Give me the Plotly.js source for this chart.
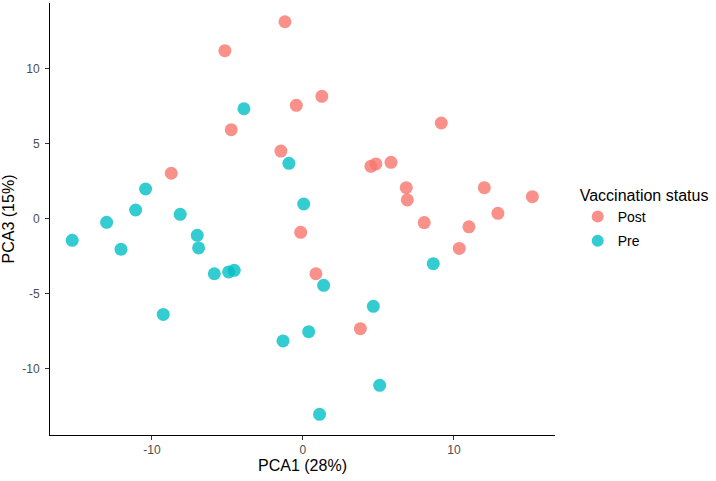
<!DOCTYPE html>
<html>
<head>
<meta charset="utf-8">
<script src="https://cdn.plot.ly/plotly-3.0.1.min.js"></script>
<style>html,body{margin:0;padding:0;background:#fff;}#chart{width:716px;height:481px;}</style>
</head>
<body>
<div id="chart"></div>
<script>
const groups = ["Post", "Pre"];
const postPCA1 = [-1.19, -5.17, 1.25, -0.44, -4.75, -1.46, -8.72, -0.15, 0.86, 3.8, 9.16, 4.5, 4.83, 5.83, 6.84, 6.91, 12.01, 15.19, 12.91, 8.03, 10.99, 10.35];
const postPCA3 = [13.13, 11.2, 8.16, 7.56, 5.93, 4.51, 3.03, -0.91, -3.67, -7.33, 6.38, 3.49, 3.65, 3.76, 2.07, 1.25, 2.07, 1.47, 0.36, -0.26, -0.54, -1.98];
const prePCA1 = [-3.91, -0.93, -10.42, -11.08, -13.0, -8.13, 0.05, -7.0, -15.28, -12.05, -6.91, -5.87, -4.92, -4.55, 1.37, -9.25, 0.38, -1.32, 1.1, 4.66, 5.08, 8.63];
const prePCA3 = [7.33, 3.69, 1.98, 0.58, -0.24, 0.29, 0.98, -1.11, -1.44, -2.04, -1.95, -3.67, -3.55, -3.44, -4.44, -6.38, -7.53, -8.15, -13.04, -5.84, -11.11, -3.0];
const xTicks = [-10, 0, 10];
const yTicks = [-10, -5, 0, 5, 10];
const colors = ["#F8766D", "#00BFC4"];

const font = "Arial, 'Liberation Sans', sans-serif";
const traces = [
  {x: postPCA1, y: postPCA3, name: groups[0], legendgroup: "g1", type: "scatter", mode: "markers",
   marker: {color: colors[0], size: 13, opacity: 0.8}},
  {x: prePCA1, y: prePCA3, name: groups[1], legendgroup: "g2", type: "scatter", mode: "markers",
   marker: {color: colors[1], size: 13, opacity: 0.8}}
];
const axisBase = {
  showgrid: false, zeroline: false, showline: true, linecolor: "#000", linewidth: 1,
  ticks: "outside", ticklen: 4, tickcolor: "#333", tickwidth: 1,
  tickfont: {family: font, size: 12, color: "#4D4D4D"}
};
const layout = {
  width: 716, height: 481,
  margin: {l: 50, r: 161, t: 3, b: 46},
  paper_bgcolor: "#fff", plot_bgcolor: "#fff",
  font: {family: font},
  xaxis: Object.assign({}, axisBase, {
    range: [-16.75, 16.69], tickvals: xTicks, ticktext: xTicks.map(String),
    title: {text: "PCA1 (28%)", font: {family: font, size: 16, color: "#000"}, standoff: 3}
  }),
  yaxis: Object.assign({}, axisBase, {
    range: [-14.42, 14.38], tickvals: yTicks, ticktext: yTicks.map(String),
    ticklabelstandoff: 3,
    title: {text: "PCA3 (15%)", font: {family: font, size: 16, color: "#000"}, standoff: 4}
  }),
  legend: {
    x: 1.045, xanchor: "left", y: 0.59, yanchor: "top",
    title: {text: "Vaccination status", font: {family: font, size: 16, color: "#000"}},
    font: {family: font, size: 14, color: "#000"},
    itemsizing: "constant", tracegroupgap: 3
  },
  showlegend: true
};
Plotly.newPlot("chart", traces, layout, {displayModeBar: false, staticPlot: true});
</script>
</body>
</html>
